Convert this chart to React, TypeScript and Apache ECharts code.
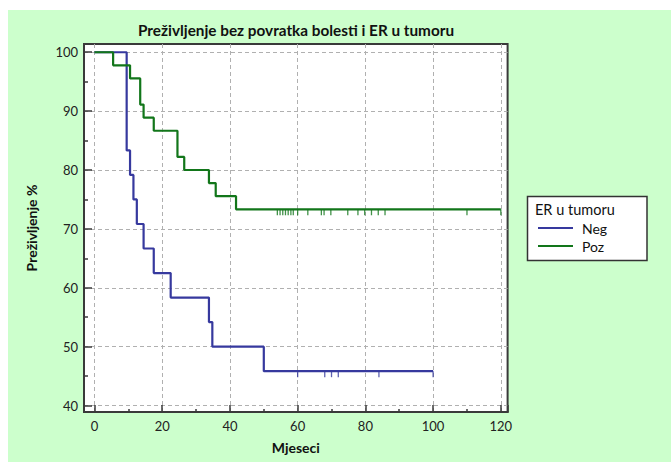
import React, { useEffect, useRef } from "react";
import * as echarts from "echarts";

// Kaplan-Meier data (months, survival %)
const negTimes = [0, 9.5, 10.5, 11.5, 12.5, 14.5, 17.5, 22.5, 33.8, 34.8, 50, 100];
const negSurv = [100, 83.33, 79.17, 75, 70.83, 66.67, 62.5, 58.33, 54.17, 50, 45.83, 45.83];
const pozTimes = [0, 5.5, 10.5, 13.5, 14.5, 17.5, 24.5, 26.5, 33.8, 35.8, 41.8, 120];
const pozSurv = [100, 97.78, 95.56, 91.11, 88.89, 86.67, 82.22, 80, 77.78, 75.56, 73.33, 73.33];

// censored observations (months)
const negCensor = [60, 68, 70, 72, 84, 100];
const negCensorLevel = 45.83;
const pozCensor = [54, 54.8, 55.6, 56.4, 57.2, 58, 58.7, 60, 63, 67, 67.8, 69.8, 74.8, 77.8, 79.8, 81.8, 83.8, 85.8, 110, 120];
const pozCensorLevel = 73.33;

const seriesNames = ["Neg", "Poz"];
const legendTitle = "ER u tumoru";
const chartTitle = "Preživljenje bez povratka bolesti i ER u tumoru";
const xName = "Mjeseci";
const yName = "Preživljenje %";

const BLUE = "#36399e";
const GREEN = "#12761a";
const FONT = "Lato, 'Open Sans', sans-serif";

export default function App() {
  const ref = useRef<HTMLDivElement>(null);

  useEffect(() => {
    if (!ref.current) return;
    const chart = echarts.init(ref.current, null, { renderer: "svg" });
    const negData = negTimes.map((t, i) => [t, negSurv[i]]);
    const pozData = pozTimes.map((t, i) => [t, pozSurv[i]]);
    const negC = negCensor.map((t) => [t, negCensorLevel]);
    const pozC = pozCensor.map((t) => [t, pozCensorLevel]);

    const axisCommon = {
      axisLine: { show: true, onZero: false, lineStyle: { color: "#3a3a3a", width: 2 } },
      axisLabel: { color: "#222", fontSize: 13, fontFamily: FONT, showMinLabel: false, showMaxLabel: false },
      splitLine: {
        show: true,
        showMinLine: false,
        showMaxLine: false,
        lineStyle: { color: "#b0b0b0", type: [4, 3], width: 1 },
      },
      nameTextStyle: { fontFamily: FONT, fontWeight: "bold", fontSize: 14, color: "#111" },
    };

    chart.setOption({
      animation: false,
      textStyle: { fontFamily: FONT },
      title: {
        text: chartTitle,
        left: 138,
        top: 22,
        padding: 0,
        textStyle: { fontFamily: FONT, fontWeight: "bold", fontSize: 15.3, color: "#111" },
      },
      grid: {
        left: 84,
        top: 44,
        right: 163.4,
        bottom: 51,
        show: true,
        backgroundColor: "#ffffff",
        borderColor: "#3a3a3a",
        borderWidth: 2,
      },
      xAxis: {
        type: "value",
        min: -3.1,
        max: 122,
        splitNumber: 6,
        name: xName,
        nameLocation: "middle",
        nameGap: 28,
        ...axisCommon,
        axisLabel: { ...axisCommon.axisLabel, margin: 7 },
        axisTick: { show: true, inside: true, length: 7, lineStyle: { color: "#3a3a3a", width: 1.5 } },
        minorTick: { show: true, splitNumber: 2, length: 3, lineStyle: { color: "#3a3a3a", width: 1.5 } },
      },
      yAxis: {
        type: "value",
        min: 38.9,
        max: 101.4,
        splitNumber: 6,
        name: yName,
        nameLocation: "middle",
        nameGap: 46,
        ...axisCommon,
        axisLabel: { ...axisCommon.axisLabel, margin: 6 },
        axisTick: { show: true, inside: true, length: 8, lineStyle: { color: "#3a3a3a", width: 1.5 } },
        minorTick: { show: true, splitNumber: 2, length: 4, lineStyle: { color: "#3a3a3a", width: 1.5 } },
      },
      legend: {
        data: seriesNames,
        orient: "vertical",
        left: 538,
        top: 221,
        itemWidth: 35,
        itemHeight: 2,
        itemGap: 4,
        icon: "rect",
        padding: 0,
        textStyle: { fontFamily: FONT, fontSize: 14, color: "#111", padding: [0, 0, 0, 4] },
      },
      graphic: [
        {
          type: "rect",
          shape: { x: 527.5, y: 196.5, width: 119.5, height: 64 },
          style: { fill: "#ffffff", stroke: "#333", lineWidth: 1.5 },
          z: -1,
        },
        {
          type: "text",
          x: 535,
          y: 209,
          style: { text: legendTitle, fontFamily: FONT, fontSize: 14.5, fill: "#111", verticalAlign: "middle" },
        },
      ],
      series: [
        {
          name: seriesNames[0],
          type: "line",
          step: "end",
          data: negData,
          showSymbol: false,
          color: BLUE,
          lineStyle: { color: BLUE, width: 2.2 },
          silent: true,
          z: 3,
        },
        {
          name: seriesNames[1],
          type: "line",
          step: "end",
          data: pozData,
          showSymbol: false,
          color: GREEN,
          lineStyle: { color: GREEN, width: 2.2 },
          silent: true,
          z: 3,
        },
        {
          name: "NegCensor",
          type: "scatter",
          data: negC,
          symbol: "rect",
          symbolSize: [1.3, 6],
          symbolOffset: [0, 3],
          itemStyle: { color: BLUE },
          silent: true,
          z: 4,
        },
        {
          name: "PozCensor",
          type: "scatter",
          data: pozC,
          symbol: "rect",
          symbolSize: [1.3, 6],
          symbolOffset: [0, 3],
          itemStyle: { color: GREEN },
          silent: true,
          z: 4,
        },
      ],
    });
    return () => chart.dispose();
  }, []);

  return (
    <div style={{ position: "fixed", left: 0, top: 0, width: 671, height: 463, background: "#ffffff" }}>
      <div style={{ position: "absolute", left: 8, top: 10, width: 663, height: 452, background: "#ccffcc" }} />
      <div ref={ref} style={{ position: "absolute", left: 0, top: 0, width: 671, height: 463 }} />
    </div>
  );
}
